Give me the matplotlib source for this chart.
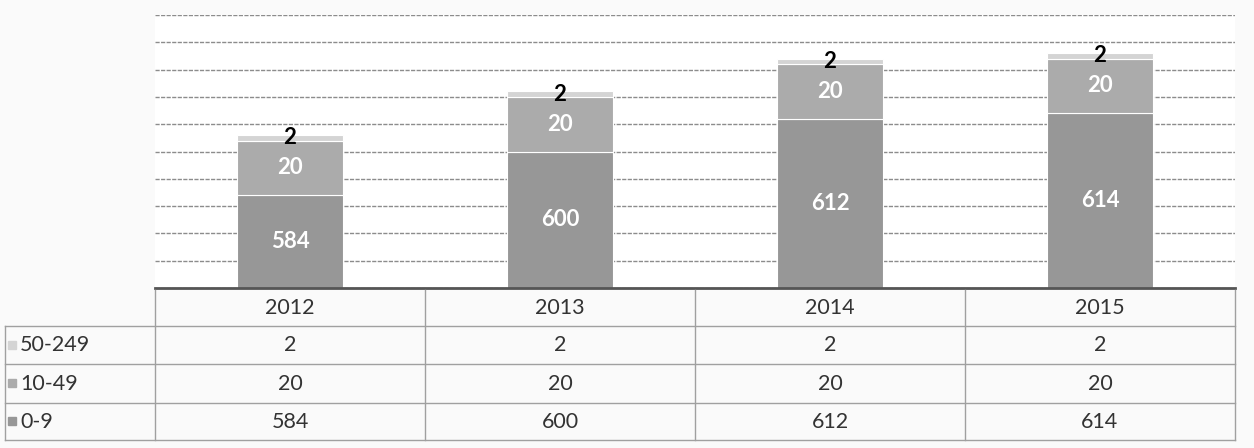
import numpy as np
import matplotlib.pyplot as plt

# data
years = ['2012', '2013', '2014', '2015']
series_names = ['0-9', '10-49', '50-249']
v_0_9 = [584, 600, 612, 614]
v_10_49 = [20, 20, 20, 20]
v_50_249 = [2, 2, 2, 2]

colors = ['#979797', '#ababab', '#d4d4d4']
label_colors = ['white', 'white', 'black']

plt.rcParams['font.family'] = ['Lato', 'DejaVu Sans']

W, H = 1254, 448
fig = plt.figure(figsize=(W / 100, H / 100), dpi=100, facecolor='#fafafa')

# plot area in pixels
left, right, top, bottom = 155, 1235, 15, 288
ax = fig.add_axes([left / W, 1 - bottom / H, (right - left) / W, (bottom - top) / H])
ax.set_facecolor('white')

ymin, ymax = 550, 650
ax.set_ylim(ymin, ymax)
ax.set_xlim(-0.5, len(years) - 0.5)
ax.set_yticks(np.arange(ymin, ymax + 1, 10))
ax.yaxis.grid(True, color='#8c8c8c', linewidth=1, linestyle=(0, (3, 1)))
ax.set_axisbelow(True)
ax.tick_params(left=False, bottom=False, labelleft=False, labelbottom=False)
for s in ['left', 'right', 'top']:
    ax.spines[s].set_visible(False)
ax.spines['bottom'].set_color('#555555')
ax.spines['bottom'].set_linewidth(2)

x = np.arange(len(years))
series = [v_0_9, v_10_49, v_50_249]
base = np.zeros(len(years))
for vals, c, lc in zip(series, colors, label_colors):
    vals = np.array(vals, dtype=float)
    ax.bar(x, vals, 0.39, bottom=base, color=c, edgecolor='white', linewidth=0.8, zorder=2)
    for xi, b, v in zip(x, base, vals):
        lo = max(b, ymin)
        ax.text(xi, (lo + b + v) / 2, f'{int(v)}', ha='center', va='center',
                color=lc, fontsize=16, fontweight='bold', zorder=3)
    base = base + vals

# data table below the chart (pixel coordinates)
ov = fig.add_axes([0, 0, 1, 1], facecolor='none')
ov.set_xlim(0, W)
ov.set_ylim(H, 0)
ov.axis('off')

col_edges = np.linspace(left, right, len(years) + 1)
row_edges = [290, 326, 364, 403, 440]
line_c = '#a0a0a0'

for ye in row_edges[1:]:
    ov.plot([5, right], [ye, ye], color=line_c, lw=1)
for xe in col_edges:
    ov.plot([xe, xe], [row_edges[0], row_edges[-1]], color=line_c, lw=1)
ov.plot([5, 5], [row_edges[1], row_edges[-1]], color=line_c, lw=1)

for i, yr in enumerate(years):
    cx = (col_edges[i] + col_edges[i + 1]) / 2
    ov.text(cx, (row_edges[0] + row_edges[1]) / 2, yr, ha='center', va='center',
            fontsize=15.5, color='#333333')

table_rows = [(series_names[2], v_50_249, colors[2]),
              (series_names[1], v_10_49, colors[1]),
              (series_names[0], v_0_9, colors[0])]
for r, (name, vals, c) in enumerate(table_rows):
    cy = (row_edges[r + 1] + row_edges[r + 2]) / 2
    ov.add_patch(plt.Rectangle((8, cy - 4), 8, 8, color=c))
    ov.text(20, cy, name, ha='left', va='center', fontsize=15.5, color='#333333')
    for i, v in enumerate(vals):
        cx = (col_edges[i] + col_edges[i + 1]) / 2
        ov.text(cx, cy, str(v), ha='center', va='center', fontsize=15.5, color='#333333')

fig.savefig('out.png', dpi=100, facecolor=fig.get_facecolor())
